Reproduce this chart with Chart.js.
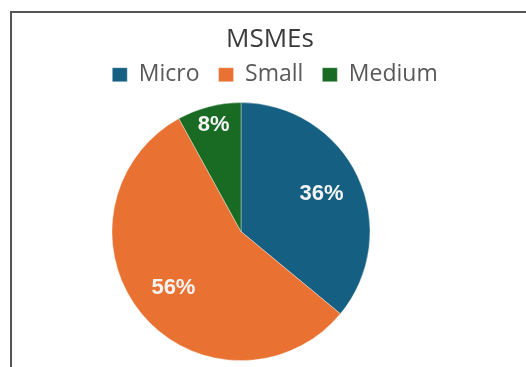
<!DOCTYPE html>
<html>
<head>
<meta charset="utf-8">
<script src="https://cdn.jsdelivr.net/npm/chart.js@4.4.1/dist/chart.umd.min.js"></script>
<style>
  html, body { margin:0; padding:0; background:#fff; }
  .frame { position:absolute; left:10px; top:11px; width:600px; height:400px; border:2px solid #555; }
  #wrap { position:absolute; left:0; top:0; width:526px; height:367px; }
</style>
</head>
<body>
<div class="frame"></div>
<div id="wrap"><canvas id="pie"></canvas></div>
<script>
// data
const categories = ["Micro", "Small", "Medium"];
const shares = [36, 56, 8];
const sliceColors = ["#156082", "#E97132", "#196B24"];
const labelDepth = [0.69, 0.68, 0.85]; // how far out each % label sits

// pie sits left of the title, legend a bit right, in the original
const nudge = {
    id: 'nudge',
    afterLayout(chart){
        const a = chart.chartArea;
        a.left -= 29; a.right -= 29;
        chart.legend.left += 5; chart.legend.right += 5;
    }
};

// percentage labels inside the slices
const pctLabels = {
    id: 'pctLabels',
    afterDatasetsDraw(chart){
        const ctx = chart.ctx;
        const meta = chart.getDatasetMeta(0);
        ctx.save();
        ctx.font = "bold 22px 'Liberation Sans', Arial, sans-serif";
        ctx.fillStyle = "#F4F4F4";
        ctx.textAlign = "center";
        ctx.textBaseline = "middle";
        meta.data.forEach((arc, i)=>{
            const p = arc.getProps(['x','y','startAngle','endAngle','outerRadius'], true);
            const mid = (p.startAngle + p.endAngle) / 2;
            const r = p.outerRadius * labelDepth[i];
            ctx.fillText(shares[i] + "%", p.x + Math.cos(mid)*r, p.y + Math.sin(mid)*r);
        });
        ctx.restore();
    }
};

new Chart(document.getElementById('pie'), {
    type: 'pie',
    data: {
        labels: categories,
        datasets: [{
            data: shares,
            backgroundColor: sliceColors,
            borderColor: 'rgba(255,255,255,0.35)',
            borderWidth: 1,
            radius: 129
        }]
    },
    options: {
        responsive: true,
        maintainAspectRatio: false,
        animation: false,
        layout: { padding: {top: 24, left: 14, right: 0, bottom: -9.5} },
        plugins: {
            title: {
                display: true,
                text: 'MSMEs',
                color: '#3a3a3a',
                font: {family: "'Open Sans', sans-serif", size: 26, weight: 'normal'},
                padding: {top: 0, bottom: -11}
            },
            legend: {
                position: 'top',
                labels: {
                    color: '#595959',
                    font: {family: "'Open Sans', sans-serif", size: 23},
                    boxWidth: 15,
                    boxHeight: 14,
                    padding: 19
                }
            },
            tooltip: {enabled: false}
        }
    },
    plugins: [nudge, pctLabels]
});
</script>
</body>
</html>
